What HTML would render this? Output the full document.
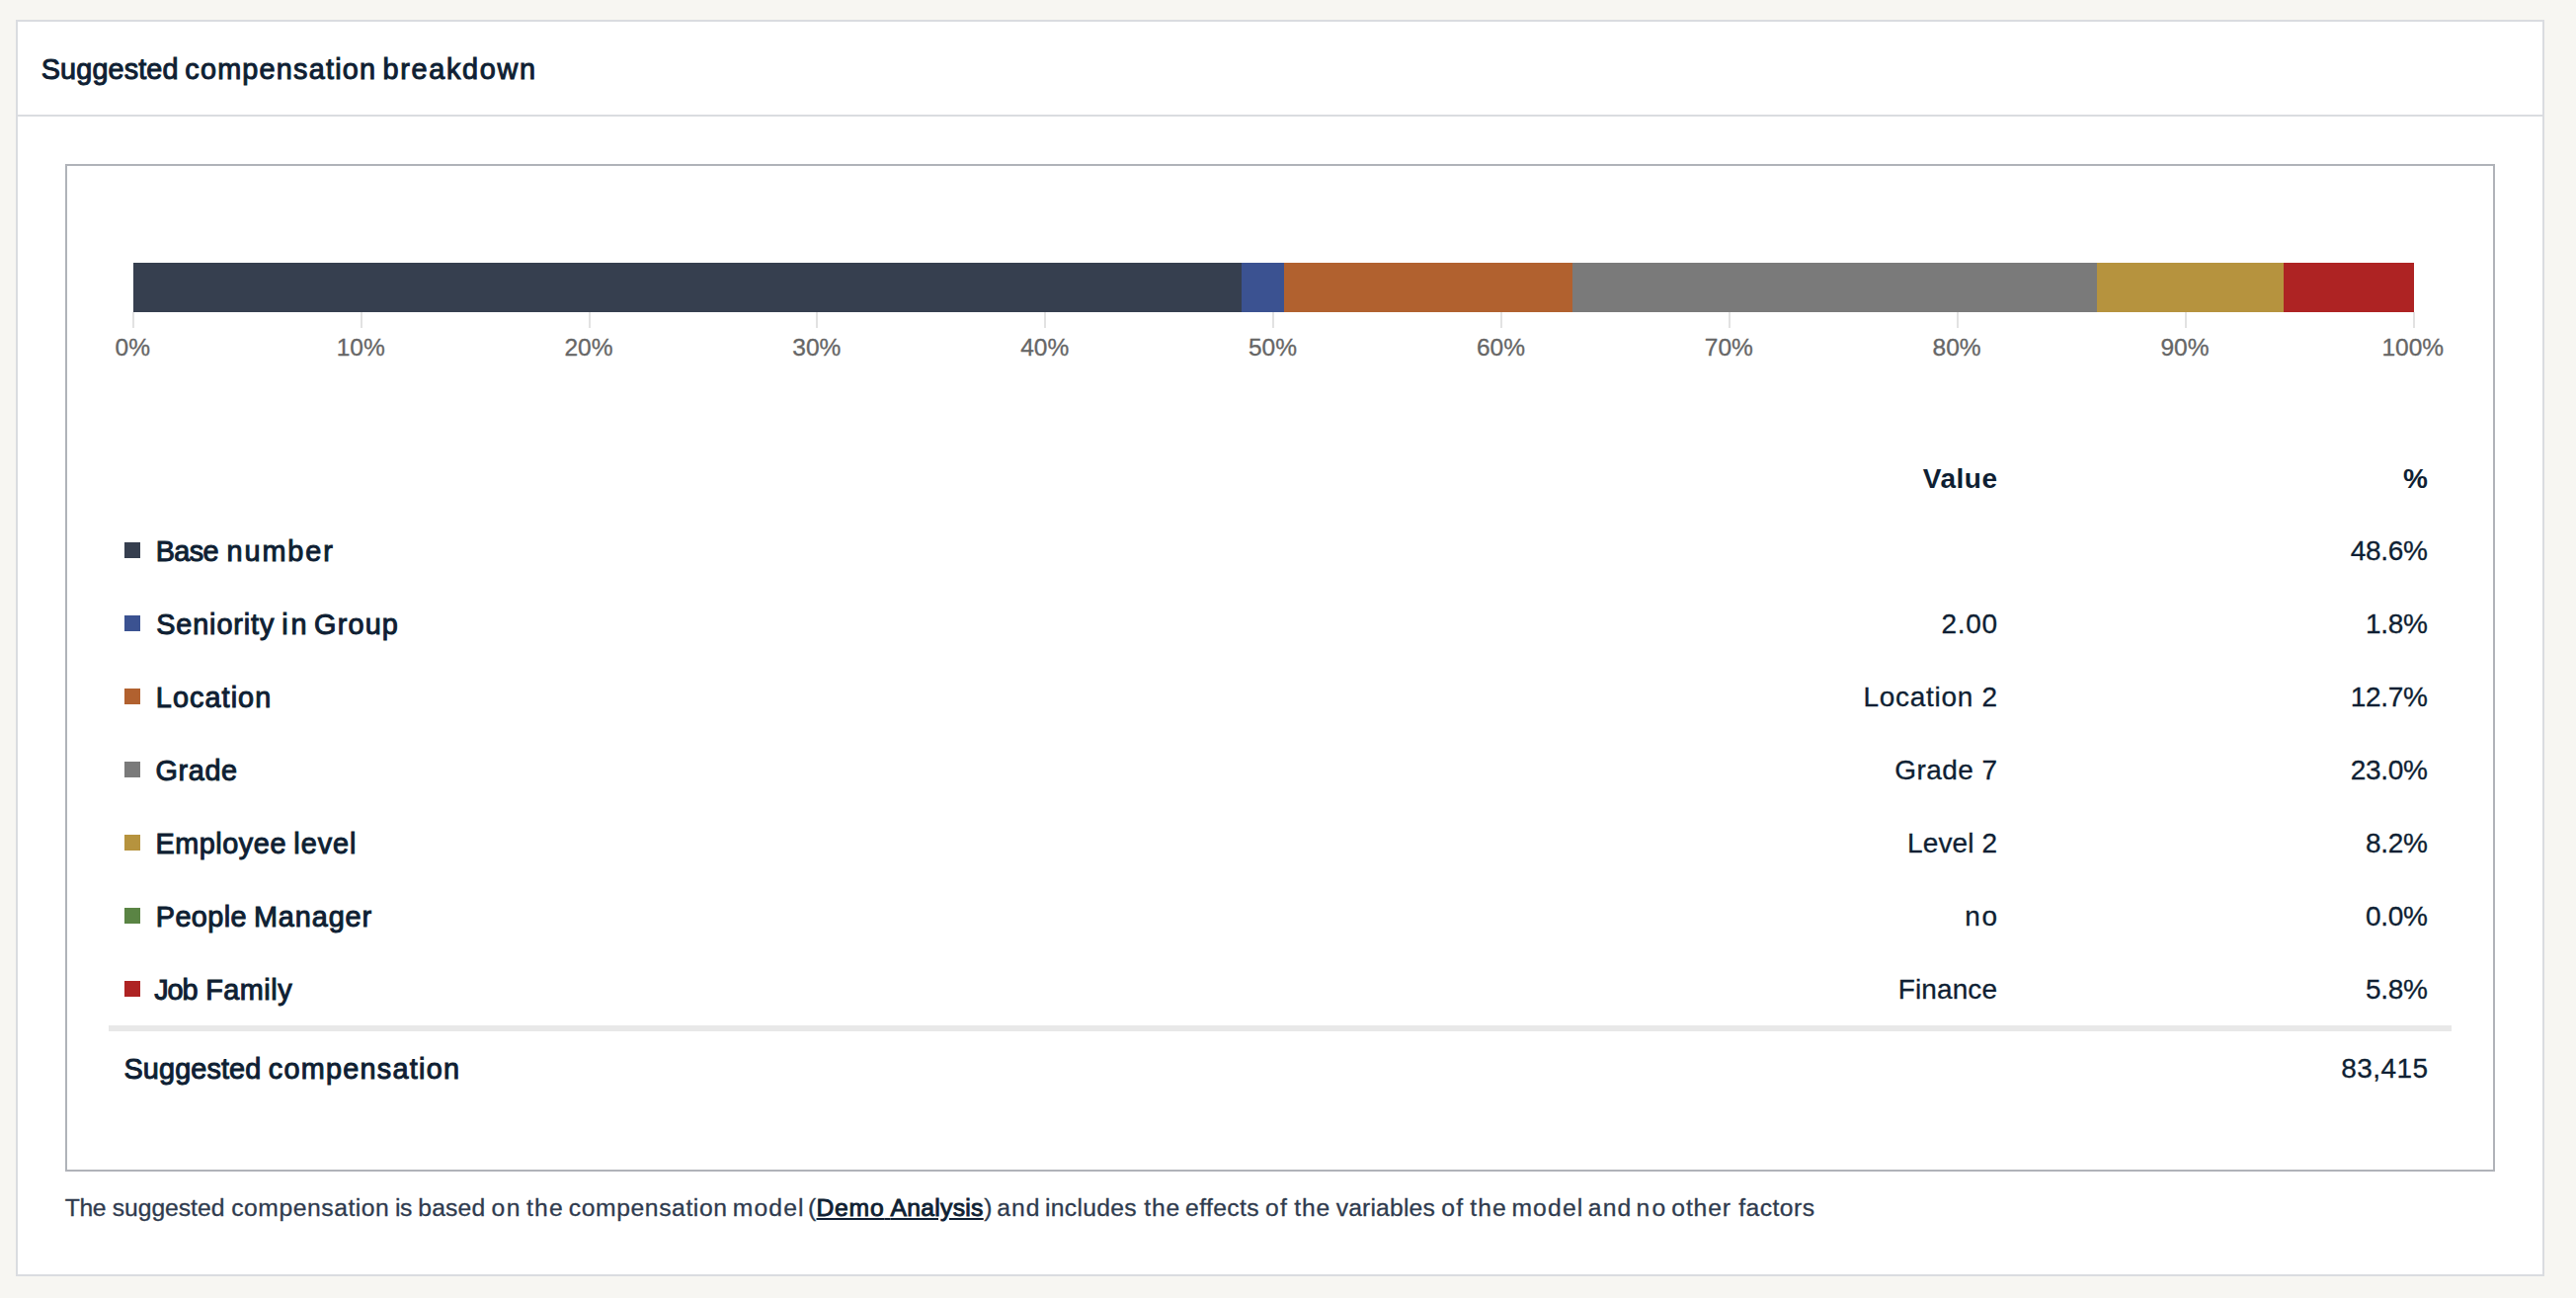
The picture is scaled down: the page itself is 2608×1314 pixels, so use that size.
<!DOCTYPE html>
<html lang="en">
<head>
<meta charset="utf-8">
<title>Suggested compensation breakdown</title>
<style>
  html,body{margin:0;padding:0;}
  body{width:2608px;height:1314px;background:#f7f6f2;position:relative;overflow:hidden;
       font-family:"Liberation Sans",sans-serif;color:#0f1f33;}
  .card{position:absolute;left:16px;top:20px;width:2556px;height:1268px;background:#fff;border:2px solid #dadce0;}
  .card-head{position:absolute;left:0;top:0;width:2556px;height:94px;border-bottom:2px solid #dadce0;}
  .title{position:absolute;left:0;top:28px;width:700px;height:40px;margin:0;font-size:28.8px;line-height:40px;font-weight:400;-webkit-text-stroke:1px #0f1f33;white-space:nowrap;}
  .w{position:absolute;top:0;}
  .box{position:absolute;left:48px;top:144px;width:2456px;height:1016px;border:2px solid #b0b3b9;background:#fff;}
  /* stacked bar chart */
  .bar{position:absolute;top:98px;height:50px;}
  .tick{position:absolute;top:148px;width:2px;height:16px;background:#e2e2e2;}
  .tl{position:absolute;top:170px;width:120px;margin-left:-60.7px;text-align:center;font-size:24.5px;line-height:28px;color:#666;-webkit-text-stroke:0.3px #666;white-space:nowrap;}
  /* breakdown table */
  .sq{position:absolute;left:58px;width:16px;height:16px;}
  .lab{position:absolute;left:0;width:900px;height:40px;margin-top:-1px;font-size:28.8px;line-height:40px;font-weight:400;-webkit-text-stroke:1px #0f1f33;white-space:nowrap;}
  .val{position:absolute;right:502px;margin-top:-1px;font-size:28px;line-height:40px;white-space:nowrap;text-align:right;letter-spacing:0.7px;margin-right:-0.7px;-webkit-text-stroke:0.3px #0f1f33;}
  .pct{position:absolute;right:66px;margin-top:-1px;font-size:28px;line-height:40px;white-space:nowrap;text-align:right;letter-spacing:-0.3px;margin-right:0.3px;-webkit-text-stroke:0.3px #0f1f33;}
  .hd{font-weight:700;-webkit-text-stroke:0;letter-spacing:0;margin-right:0;margin-top:0;}
  .sep{position:absolute;left:42px;top:870px;width:2372px;height:6px;background:#e8e8e8;}
  .foot{position:absolute;left:0;top:1183px;width:2000px;height:36px;margin:0;font-size:24.7px;line-height:36px;color:#2f3b4e;-webkit-text-stroke:0.3px #2f3b4e;white-space:nowrap;}
  .foot a{color:#0f1f33;font-weight:400;-webkit-text-stroke:0.9px #0f1f33;text-decoration:underline;}
</style>
</head>
<body>
<div class="card">
  <div class="card-head"><h2 class="title"><span class="w" style="left:23.8px;letter-spacing:0.12px">Suggested</span> <span class="w" style="left:169.3px;letter-spacing:1.22px">compensation</span> <span class="w" style="left:369.6px;letter-spacing:1.68px">breakdown</span></h2></div>
  <div class="box">
    <div class="bar" style="left:67.0px;width:2309.0px;background:#363f4f"></div>
    <div class="bar" style="left:1189.2px;width:1186.8px;background:#3b5291"></div>
    <div class="bar" style="left:1231.5px;width:1144.5px;background:#b1612f"></div>
    <div class="bar" style="left:1524.0px;width:852.0px;background:#7a7a7a"></div>
    <div class="bar" style="left:2055.1px;width:320.9px;background:#b6933e"></div>
    <div class="bar" style="left:2244.0px;width:132.0px;background:#ae2323"></div>

    <div class="tick" style="left:66px"></div><div class="tl" style="left:67.0px">0%</div>
    <div class="tick" style="left:297px"></div><div class="tl" style="left:297.9px">10%</div>
    <div class="tick" style="left:528px"></div><div class="tl" style="left:528.7px">20%</div>
    <div class="tick" style="left:758px"></div><div class="tl" style="left:759.5px">30%</div>
    <div class="tick" style="left:989px"></div><div class="tl" style="left:990.4px">40%</div>
    <div class="tick" style="left:1220px"></div><div class="tl" style="left:1221.2px">50%</div>
    <div class="tick" style="left:1451px"></div><div class="tl" style="left:1452.1px">60%</div>
    <div class="tick" style="left:1682px"></div><div class="tl" style="left:1683.0px">70%</div>
    <div class="tick" style="left:1913px"></div><div class="tl" style="left:1913.8px">80%</div>
    <div class="tick" style="left:2144px"></div><div class="tl" style="left:2144.7px">90%</div>
    <div class="tick" style="left:2375px"></div><div class="tl" style="left:2375.5px">100%</div>

    <div class="val hd" style="top:297px;letter-spacing:0.5px;margin-right:-0.5px">Value</div><div class="pct hd" style="top:297px">%</div>

    <div class="sq" style="top:381px;background:#363f4f"></div><div class="lab" style="top:371px"><span class="w" style="left:89.8px;letter-spacing:-0.63px">Base</span> <span class="w" style="left:161.6px;letter-spacing:1.91px">number</span></div><div class="pct" style="top:371px">48.6%</div>
    <div class="sq" style="top:455px;background:#3b5291"></div><div class="lab" style="top:445px"><span class="w" style="left:90.2px;letter-spacing:0.89px">Seniority</span> <span class="w" style="left:217.3px;letter-spacing:2.90px">in</span> <span class="w" style="left:250.1px;letter-spacing:1.19px">Group</span></div><div class="val" style="top:445px">2.00</div><div class="pct" style="top:445px">1.8%</div>
    <div class="sq" style="top:529px;background:#b1612f"></div><div class="lab" style="top:519px"><span class="w" style="left:89.8px;letter-spacing:1.08px">Location</span></div><div class="val" style="top:519px">Location 2</div><div class="pct" style="top:519px">12.7%</div>
    <div class="sq" style="top:603px;background:#7a7a7a"></div><div class="lab" style="top:593px"><span class="w" style="left:89.6px;letter-spacing:0.61px">Grade</span></div><div class="val" style="top:593px;letter-spacing:0.42px;margin-right:-0.42px">Grade 7</div><div class="pct" style="top:593px">23.0%</div>
    <div class="sq" style="top:677px;background:#b6933e"></div><div class="lab" style="top:667px"><span class="w" style="left:89.4px;letter-spacing:0.57px">Employee</span> <span class="w" style="left:229.3px;letter-spacing:0.96px">level</span></div><div class="val" style="top:667px;letter-spacing:0.1px;margin-right:-0.1px">Level 2</div><div class="pct" style="top:667px">8.2%</div>
    <div class="sq" style="top:751px;background:#5a8444"></div><div class="lab" style="top:741px"><span class="w" style="left:89.8px;letter-spacing:0.40px">People</span> <span class="w" style="left:188.9px;letter-spacing:0.93px">Manager</span></div><div class="val" style="top:741px;letter-spacing:1.7px;margin-right:-1.7px">no</div><div class="pct" style="top:741px">0.0%</div>
    <div class="sq" style="top:825px;background:#ae2323"></div><div class="lab" style="top:815px"><span class="w" style="left:88.2px;letter-spacing:-1.07px">Job</span> <span class="w" style="left:140.2px;letter-spacing:0.53px">Family</span></div><div class="val" style="top:815px;letter-spacing:0.1px;margin-right:-0.1px">Finance</div><div class="pct" style="top:815px">5.8%</div>

    <div class="sep"></div>
    <div class="lab" style="top:895px"><span class="w" style="left:57.5px;letter-spacing:0.13px">Suggested</span> <span class="w" style="left:203.8px;letter-spacing:1.27px">compensation</span></div><div class="pct" style="top:895px;letter-spacing:0.4px;margin-right:-0.4px">83,415</div>
  </div>
  <p class="foot"><span class="w" style="left:47.7px;letter-spacing:-0.35px">The</span> <span class="w" style="left:95.7px;letter-spacing:-0.03px">suggested</span> <span class="w" style="left:216.2px;letter-spacing:0.54px">compensation</span> <span class="w" style="left:382.1px;letter-spacing:-0.60px">is</span> <span class="w" style="left:405.2px;letter-spacing:0.21px">based</span> <span class="w" style="left:479.5px;letter-spacing:1.60px">on</span> <span class="w" style="left:515.0px;letter-spacing:1.20px">the</span> <span class="w" style="left:557.8px;letter-spacing:0.59px">compensation</span> <span class="w" style="left:723.7px;letter-spacing:1.14px">model</span> <span class="w" style="left:800.1px">(</span><a class="w" style="left:808.5px;word-spacing:-0.88px"><span style="letter-spacing:0.78px">Demo</span> <span style="letter-spacing:0.29px">Analysis</span></a><span class="w" style="left:978.3px">)</span> <span class="w" style="left:991.3px;letter-spacing:0.98px">and</span> <span class="w" style="left:1040.1px;letter-spacing:0.26px">includes</span> <span class="w" style="left:1140.2px;letter-spacing:0.90px">the</span> <span class="w" style="left:1182.1px;letter-spacing:0.35px">effects</span> <span class="w" style="left:1262.9px;letter-spacing:1.35px">of</span> <span class="w" style="left:1292.2px;letter-spacing:0.90px">the</span> <span class="w" style="left:1334.7px;letter-spacing:0.16px">variables</span> <span class="w" style="left:1441.2px;letter-spacing:1.25px">of</span> <span class="w" style="left:1470.2px;letter-spacing:1.15px">the</span> <span class="w" style="left:1512.4px;letter-spacing:1.16px">model</span> <span class="w" style="left:1589.8px;letter-spacing:1.12px">and</span> <span class="w" style="left:1638.5px;letter-spacing:2.30px">no</span> <span class="w" style="left:1674.3px;letter-spacing:0.85px">other</span> <span class="w" style="left:1742.2px;letter-spacing:0.45px">factors</span></p>
</div>
</body>
</html>
